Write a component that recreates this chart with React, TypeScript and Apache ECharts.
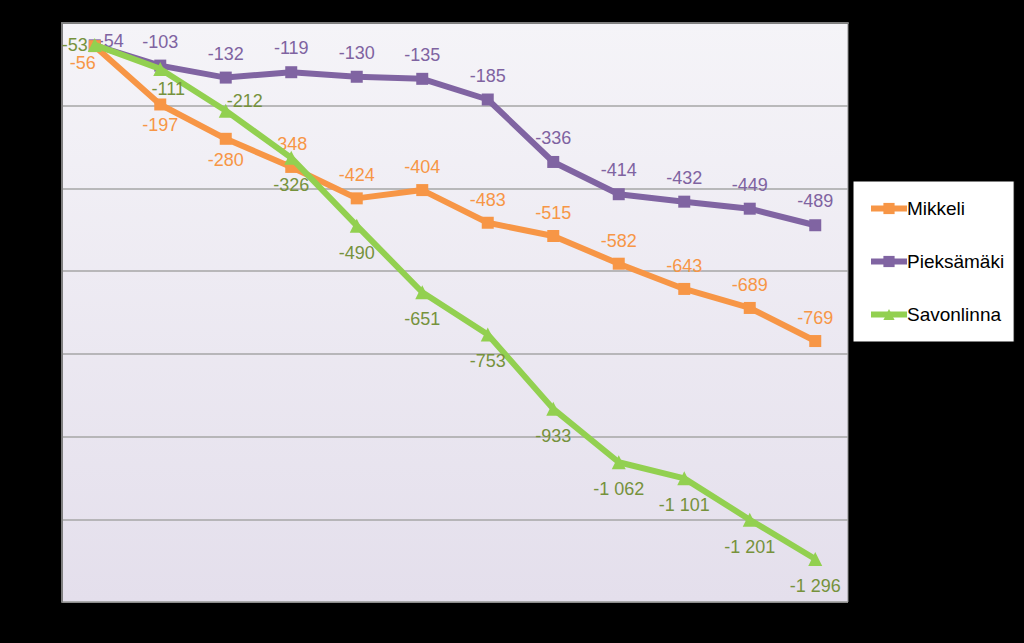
import React, { useEffect, useRef } from "react";
import * as echarts from "echarts";

const categories = ["1", "2", "3", "4", "5", "6", "7", "8", "9", "10", "11", "12"];
const mikkeli = [-56, -197, -280, -348, -424, -404, -483, -515, -582, -643, -689, -769];
const pieksamaki = [-54, -103, -132, -119, -130, -135, -185, -336, -414, -432, -449, -489];
const savonlinna = [-53, -111, -212, -326, -490, -651, -753, -933, -1062, -1101, -1201, -1296];

const fmt = (v: number) => {
  const s = Math.abs(v).toString();
  const withSpace = s.replace(/\B(?=(\d{3})+(?!\d))/g, " ");
  return (v < 0 ? "-" : "") + withSpace;
};

export default function App() {
  const ref = useRef<HTMLDivElement>(null);
  useEffect(() => {
    if (!ref.current) return;
    const chart = echarts.init(ref.current, undefined, { renderer: "svg" });
    const font = "'Liberation Sans', Arial, sans-serif";
    const mkData = (vals: number[], posFor: (i: number) => any) =>
      vals.map((v, i) => {
        const p = posFor(i);
        return p ? { value: v, label: p } : { value: v };
      });
    chart.setOption({
      animation: false,
      backgroundColor: "#000000",
      grid: {
        left: 62,
        top: 23,
        right: 176,
        bottom: 41,
        show: true,
        borderWidth: 1,
        borderColor: "#8C8C8C",
        backgroundColor: new echarts.graphic.LinearGradient(0, 0, 0, 1, [
          { offset: 0, color: "#F5F4F8" },
          { offset: 1, color: "#E4DFEC" },
        ]),
      },
      legend: {
        orient: "vertical",
        left: 853,
        top: 181,
        backgroundColor: "#FFFFFF",
        borderColor: "#000000",
        borderWidth: 1,
        borderRadius: 0,
        padding: [18, 10, 18, 15],
        itemGap: 34,
        itemWidth: 36,
        itemHeight: 14,
        lineStyle: { width: 6 },
        textStyle: { color: "#000000", fontSize: 19, fontFamily: font, padding: [0, 0, 0, -5] },
        data: ["Mikkeli", "Pieksämäki", "Savonlinna"],
      },
      xAxis: {
        type: "category",
        data: categories,
        boundaryGap: true,
        axisLine: { show: true, lineStyle: { color: "#7F7F7F", width: 2 } },
        axisTick: { show: false },
        axisLabel: { show: false },
      },
      yAxis: {
        type: "value",
        min: -1400,
        max: 0,
        interval: 200,
        axisLine: { show: true, lineStyle: { color: "#7F7F7F", width: 2 } },
        axisTick: { show: false },
        axisLabel: { show: false },
        splitLine: { show: true, lineStyle: { color: "#A6A6A6", width: 1.5 } },
      },
      series: [
        {
          name: "Mikkeli",
          type: "line",
          data: mkData(mikkeli, (i) =>
            i === 0
              ? { position: "bottom", offset: [-12, -6] }
              : i < 3
              ? { position: "bottom", distance: 6 }
              : i === 3
              ? { position: "top", offset: [-2, 0] }
              : null
          ),
          symbol: "rect",
          symbolSize: 12,
          lineStyle: { color: "#F79646", width: 6 },
          itemStyle: { color: "#F79646" },
          z: 3,
          label: {
            show: true,
            position: "top",
            distance: 8,
            color: "#F79646",
            fontSize: 18,
            fontFamily: font,
            formatter: (p: any) => fmt(p.value),
          },
        },
        {
          name: "Pieksämäki",
          type: "line",
          data: mkData(pieksamaki, (i) =>
            i === 0 ? { position: "right", distance: -3, offset: [0, -4] } : null
          ),
          symbol: "rect",
          symbolSize: 12,
          lineStyle: { color: "#8064A2", width: 6 },
          itemStyle: { color: "#8064A2" },
          z: 2,
          label: {
            show: true,
            position: "top",
            distance: 9,
            color: "#7F63A1",
            fontSize: 18,
            fontFamily: font,
            formatter: (p: any) => fmt(p.value),
          },
        },
        {
          name: "Savonlinna",
          type: "line",
          data: mkData(savonlinna, (i) =>
            i === 0
              ? { position: "left", distance: 0, offset: [0, 0] }
              : i === 1
              ? { position: "bottom", distance: 4, offset: [8, 0] }
              : i === 2
              ? { position: "right", distance: 0, offset: [-6, -10] }
              : null
          ),
          symbol: "triangle",
          symbolSize: 14,
          lineStyle: { color: "#92D050", width: 6 },
          itemStyle: { color: "#92D050" },
          z: 4,
          label: {
            show: true,
            position: "bottom",
            distance: 11,
            color: "#76923C",
            fontSize: 18,
            fontFamily: font,
            formatter: (p: any) => fmt(p.value),
          },
        },
      ],
    });
    return () => chart.dispose();
  }, []);
  return (
    <div
      ref={ref}
      style={{ position: "fixed", left: 0, top: 0, width: 1024, height: 643 }}
    />
  );
}
